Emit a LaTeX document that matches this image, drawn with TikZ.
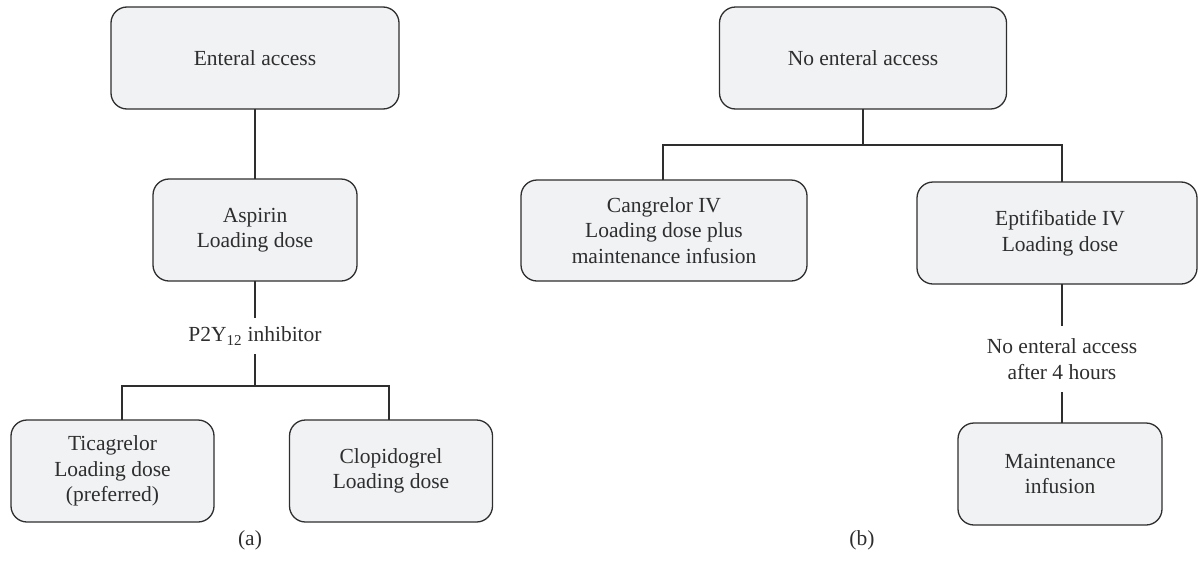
\documentclass[tikz,border=0pt]{standalone}
\usepackage{fontspec}
\setmainfont{Liberation Serif}
\definecolor{boxfill}{HTML}{F1F2F4}
\definecolor{boxline}{HTML}{2E2E2E}
\begin{document}
\begin{tikzpicture}[x=1pt,y=-1pt,
  every node/.style={font=\fontsize{21.5}{25.5}\selectfont, text=boxline, align=center, inner sep=0pt, outer sep=0pt},
  flowbox/.style={draw=boxline, line width=1.3pt, fill=boxfill, rounded corners=16pt},
  conn/.style={draw=boxline, line width=1.3pt}]
\useasboundingbox (0,0) rectangle (1198,565);
% (a)
\node[flowbox, minimum width=288pt, minimum height=102pt] (ea) at (255,58) {Enteral access};
\node[flowbox, minimum width=204pt, minimum height=102pt] (asp) at (255,230) {Aspirin\\Loading dose};
\node[minimum height=36pt] (p2y) at (255,336) {P2Y\textsubscript{12} inhibitor};
\node[flowbox, minimum width=203pt, minimum height=102pt] (tic) at (112.5,471) {Ticagrelor\\Loading dose\\(preferred)};
\node[flowbox, minimum width=203pt, minimum height=102pt] (clo) at (391,471) {Clopidogrel\\Loading dose};
\node (capa) at (250,540) {(a)};
\coordinate (ja) at (255,386);
\coordinate (jal) at (122,386);
\coordinate (jar) at (389,386);
\draw[conn] (ea.south) -- (ea.south |- asp.north);
\draw[conn] (asp.south) -- (asp.south |- p2y.north);
\draw[conn] (p2y.south) -- (ja);
\draw[conn] (jal |- tic.north) -- (jal) -- (jar) -- (jar |- clo.north);
% (b)
\node[flowbox, minimum width=287pt, minimum height=102pt] (nea) at (863,58) {No enteral access};
\node[flowbox, minimum width=286pt, minimum height=101pt] (can) at (664,230.5) {Cangrelor IV\\Loading dose plus\\maintenance infusion};
\node[flowbox, minimum width=280pt, minimum height=102pt] (ept) at (1057,233) {\hspace*{6pt}Eptifibatide IV\\\hspace*{6pt}Loading dose};
\node[minimum height=66pt] (nea4) at (1062,359) {No enteral access\\after 4 hours};
\node[flowbox, minimum width=204pt, minimum height=102pt] (mai) at (1060,474) {Maintenance\\infusion};
\node (capb) at (862,540) {(b)};
\coordinate (jb) at (863,145);
\coordinate (jbl) at (663,145);
\coordinate (jbr) at (1062,145);
\draw[conn] (nea.south) -- (jb);
\draw[conn] (jbl |- can.north) -- (jbl) -- (jbr) -- (jbr |- ept.north);
\draw[conn] (nea4.north |- ept.south) -- (nea4.north);
\draw[conn] (nea4.south) -- (nea4.south |- mai.north);
\end{tikzpicture}
\end{document}
